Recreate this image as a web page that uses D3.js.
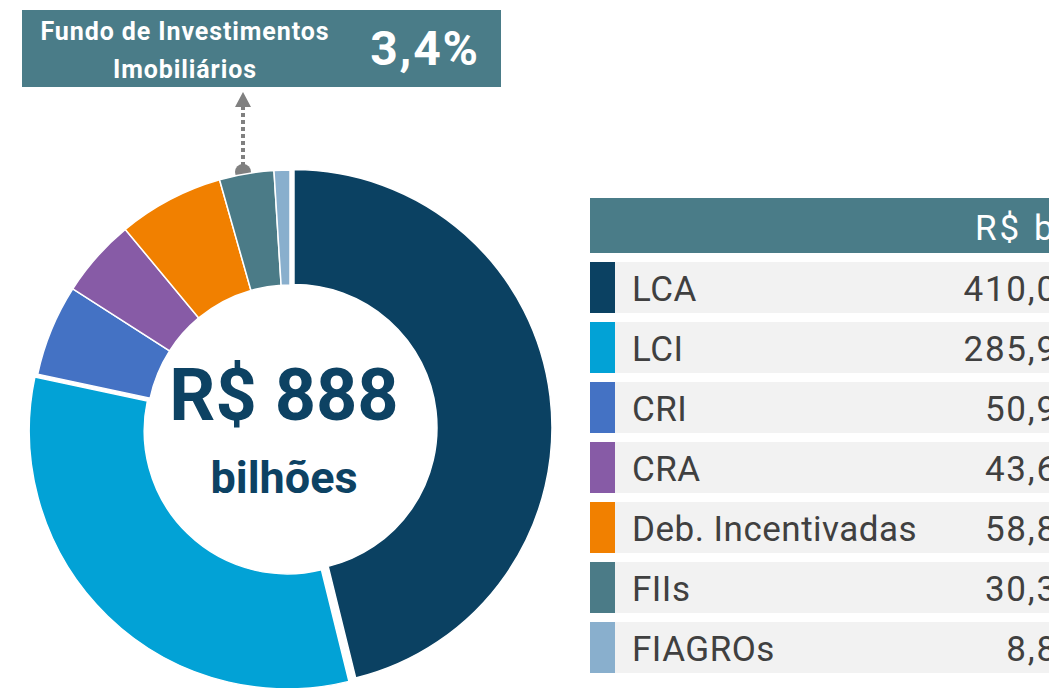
<!DOCTYPE html>
<html>
<head>
<meta charset="utf-8">
<script src="https://cdn.jsdelivr.net/npm/d3@7/dist/d3.min.js"></script>
<style>
  html, body { margin: 0; padding: 0; background: #ffffff; overflow: hidden; }
  svg { display: block; font-family: Roboto, "Noto Sans", sans-serif; }
</style>
</head>
<body>
<svg id="chart" width="1049" height="688"></svg>
<script>
// ---- data ----
const categories = ["LCA", "LCI", "CRI", "CRA", "Deb. Incentivadas", "FIIs", "FIAGROs"];
const values = [410.0, 285.9, 50.9, 43.6, 58.8, 30.3, 8.8];
const valueLabels = ["410,0", "285,9", "50,9", "43,6", "58,8", "30,3", "8,8"];
const colors = ["#0b4162", "#02a2d6", "#4472c4", "#875ba6", "#f18000", "#4b7b87", "#89afcd"];
const totalLabel = "R$ 888";
const totalUnit = "bilhões";
const tableHeader = "R$ bilhões";
const calloutTitle = ["Fundo de Investimentos", "Imobiliários"];
const calloutValue = "3,4%";

// ---- layout / style ----
const W = 1049, H = 688;
const cx = 290, cy = 428, outerR = 258, innerR = 143;
const explode = [4, 4, 0, 0, 0, 0, 0];
const teal = "#4a7c88";

const svg = d3.select("#chart");

// callout arrow marker (drawn first so donut sits over the dot)
const arrowX = 243;
svg.append("circle").attr("cx", arrowX).attr("cy", 172).attr("r", 8).attr("fill", "#808080");
svg.append("line")
  .attr("x1", arrowX).attr("x2", arrowX).attr("y1", 166).attr("y2", 106)
  .attr("stroke", "#808080").attr("stroke-width", 4).attr("stroke-dasharray", "4,3");
svg.append("path")
  .attr("d", d3.line()([[arrowX - 8, 107], [arrowX + 8, 107], [arrowX, 92]]) + "Z")
  .attr("fill", "#808080");

// ---- donut ----
const pie = d3.pie().sort(null).value(d => d.v).startAngle(0).endAngle(2 * Math.PI);
const arcs = pie(categories.map((c, i) => ({ c, v: values[i], i })));
const arc = d3.arc().innerRadius(innerR).outerRadius(outerR);

const g = svg.append("g").attr("transform", `translate(${cx},${cy})`);
g.selectAll("path.slice")
  .data(arcs)
  .join("path")
  .attr("class", "slice")
  .attr("d", arc)
  .attr("fill", d => colors[d.data.i])
  .attr("stroke", "#ffffff")
  .attr("stroke-width", 1.5)
  .attr("transform", d => {
    const a = (d.startAngle + d.endAngle) / 2;
    const e = explode[d.data.i];
    return `translate(${e * Math.sin(a)},${-e * Math.cos(a)})`;
  });

// center text
svg.append("text")
  .attr("x", 284).attr("y", 420)
  .attr("text-anchor", "middle")
  .attr("font-size", 72).attr("font-weight", 700)
  .attr("fill", "#0d4263")
  .text(totalLabel);
svg.append("text")
  .attr("x", 284).attr("y", 493)
  .attr("text-anchor", "middle")
  .attr("font-size", 45).attr("font-weight", 700)
  .attr("fill", "#0d4263")
  .text(totalUnit);

// ---- callout box ----
svg.append("rect").attr("x", 22).attr("y", 10).attr("width", 479).attr("height", 77).attr("fill", teal);
svg.append("text")
  .attr("x", 185).attr("y", 40).attr("text-anchor", "middle")
  .attr("font-size", 25).attr("font-weight", 700).attr("fill", "#ffffff")
  .attr("letter-spacing", 0.9)
  .text(calloutTitle[0]);
svg.append("text")
  .attr("x", 185).attr("y", 78).attr("text-anchor", "middle")
  .attr("font-size", 25).attr("font-weight", 700).attr("fill", "#ffffff")
  .attr("letter-spacing", 0.9)
  .text(calloutTitle[1]);
svg.append("text")
  .attr("x", 425).attr("y", 65).attr("text-anchor", "middle")
  .attr("font-size", 48).attr("font-weight", 700).attr("fill", "#ffffff")
  .attr("letter-spacing", 1.8)
  .text(calloutValue);

// ---- table ----
const tableX = 590;
svg.append("rect").attr("x", tableX).attr("y", 198).attr("width", W - tableX).attr("height", 55).attr("fill", teal);
svg.append("text")
  .attr("x", 975).attr("y", 240)
  .attr("font-size", 35).attr("fill", "#ffffff")
  .attr("letter-spacing", 3)
  .text(tableHeader);

const rowY = d3.scaleLinear().domain([0, 1]).range([262, 322]);
const rowH = 51;
const rows = svg.append("g").selectAll("g.row")
  .data(categories.map((c, i) => ({ c, i })))
  .join("g")
  .attr("class", "row")
  .attr("transform", d => `translate(0,${rowY(d.i)})`);

rows.append("rect")
  .attr("x", tableX + 25).attr("y", 0).attr("width", W - tableX - 25).attr("height", rowH)
  .attr("fill", "#f2f2f2");
rows.append("rect")
  .attr("x", tableX).attr("y", 0).attr("width", 25).attr("height", rowH)
  .attr("fill", d => colors[d.i]);
rows.append("text")
  .attr("x", 632).attr("y", 39)
  .attr("font-size", 35).attr("fill", "#404040")
  .attr("letter-spacing", 0.5)
  .text(d => d.c);
rows.append("text")
  .attr("x", 1058).attr("y", 39)
  .attr("text-anchor", "end")
  .attr("font-size", 35).attr("fill", "#404040")
  .attr("letter-spacing", 1.8)
  .text(d => valueLabels[d.i]);
</script>
</body>
</html>
